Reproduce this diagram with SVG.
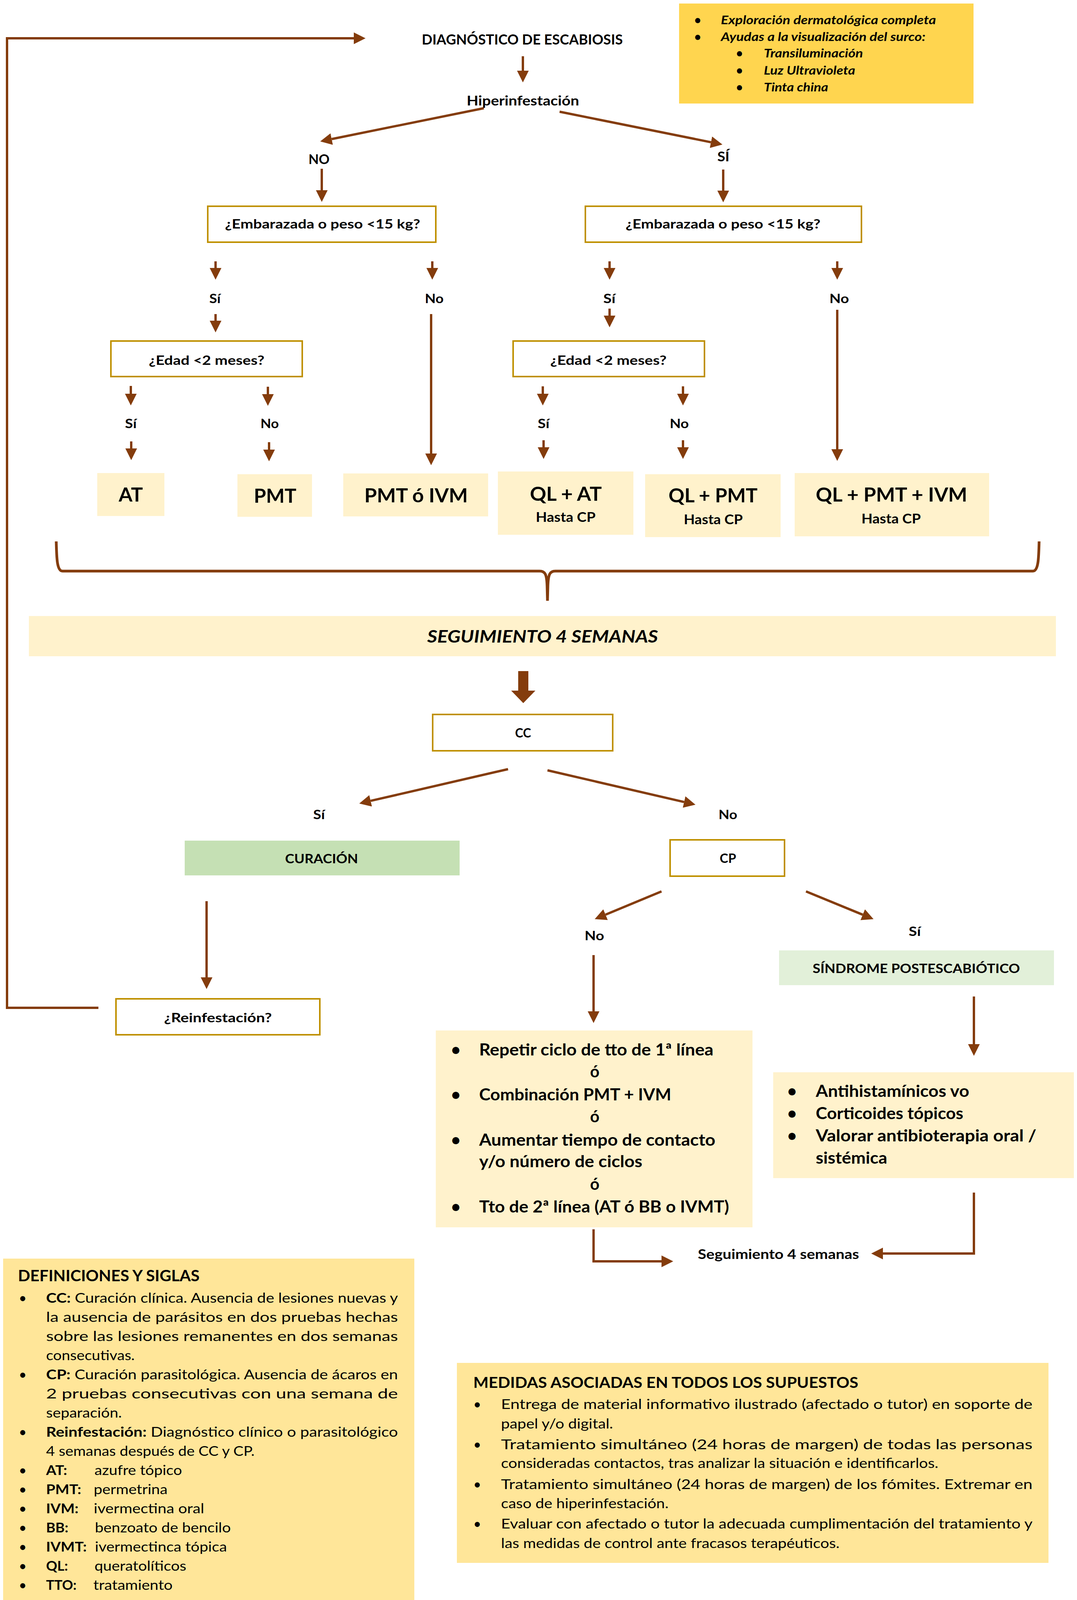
<svg xmlns="http://www.w3.org/2000/svg" width="2758" height="4216" viewBox="0 0 2758 4216">
<style>
text{font-family:Lato,'Open Sans','Liberation Sans',sans-serif;fill:#000}
.b{font-weight:700}
.bi{font-weight:700;font-style:italic}
.r{font-weight:400}
.c{fill:none;stroke:#843C0C;stroke-width:6}
.box{fill:#fff;stroke:#BF9000;stroke-width:4}
.cream{fill:#FFF2CC}
.gold{fill:#FFE699}
.green{fill:#C5E0B4}
.lgreen{fill:#E2F0D9}
.info{fill:#FFD54F}
</style>
<defs>
<marker id="ah" markerUnits="userSpaceOnUse" markerWidth="30" markerHeight="32" viewBox="0 -16 30 32" refX="0" refY="0" orient="auto">
<path d="M0,-15 L30,0 L0,15 z" fill="#843C0C"/>
</marker>
</defs>
<rect width="2758" height="4216" fill="#fff"/>

<g id="connectors">
<polyline class="c" points="252,2580 18,2580 18,98 906,98" marker-end="url(#ah)"/>
<line class="c" x1="1339" y1="144" x2="1339" y2="181" marker-end="url(#ah)"/>
<line class="c" x1="1239" y1="277" x2="849.4" y2="356" marker-end="url(#ah)"/>
<line class="c" x1="1433" y1="286" x2="1820.6" y2="364.1" marker-end="url(#ah)"/>
<line class="c" x1="824" y1="432" x2="824" y2="487" marker-end="url(#ah)"/>
<line class="c" x1="1852" y1="434" x2="1852" y2="488" marker-end="url(#ah)"/>
<line class="c" x1="552" y1="669" x2="552" y2="686" marker-end="url(#ah)"/>
<line class="c" x1="1107" y1="669" x2="1107" y2="686" marker-end="url(#ah)"/>
<line class="c" x1="1561" y1="669" x2="1561" y2="686" marker-end="url(#ah)"/>
<line class="c" x1="2144" y1="669" x2="2144" y2="686" marker-end="url(#ah)"/>
<line class="c" x1="552" y1="804" x2="552" y2="821" marker-end="url(#ah)"/>
<line class="c" x1="1561" y1="790" x2="1561" y2="808" marker-end="url(#ah)"/>
<line class="c" x1="1104" y1="804" x2="1104" y2="1161" marker-end="url(#ah)"/>
<line class="c" x1="2144" y1="793" x2="2144" y2="1150" marker-end="url(#ah)"/>
<line class="c" x1="335" y1="988" x2="335" y2="1008" marker-end="url(#ah)"/>
<line class="c" x1="686" y1="990" x2="686" y2="1009" marker-end="url(#ah)"/>
<line class="c" x1="1390" y1="989" x2="1390" y2="1008" marker-end="url(#ah)"/>
<line class="c" x1="1749" y1="989" x2="1749" y2="1008" marker-end="url(#ah)"/>
<line class="c" x1="336" y1="1130" x2="336" y2="1148" marker-end="url(#ah)"/>
<line class="c" x1="689" y1="1132" x2="689" y2="1151" marker-end="url(#ah)"/>
<line class="c" x1="1392" y1="1127" x2="1392" y2="1145" marker-end="url(#ah)"/>
<line class="c" x1="1749" y1="1127" x2="1749" y2="1145" marker-end="url(#ah)"/>
<path class="c" style="stroke-width:7" d="M144,1386 C145,1430 146,1462 160,1462 L1382,1462 C1396,1462 1400,1470 1401,1500 L1402,1538 M1402,1538 L1403,1500 C1404,1470 1408,1462 1422,1462 L2645,1462 C2659,1462 2660,1430 2661,1386"/>
<polygon points="1327,1718 1353,1718 1353,1768 1371,1768 1340,1800 1309,1768 1327,1768" fill="#843C0C"/>
<line class="c" x1="1301" y1="1969" x2="949.2" y2="2050.2" marker-end="url(#ah)"/>
<line class="c" x1="1402" y1="1972" x2="1751.8" y2="2053.2" marker-end="url(#ah)"/>
<line class="c" x1="529" y1="2307" x2="529" y2="2502" marker-end="url(#ah)"/>
<line class="c" x1="1694" y1="2282" x2="1550.7" y2="2341.5" marker-end="url(#ah)"/>
<line class="c" x1="2064" y1="2282" x2="2209.2" y2="2341.6" marker-end="url(#ah)"/>
<line class="c" x1="1520" y1="2445" x2="1520" y2="2589" marker-end="url(#ah)"/>
<line class="c" x1="2494" y1="2551" x2="2494" y2="2673" marker-end="url(#ah)"/>
<polyline class="c" points="1520,3147 1520,3229 1694,3229" marker-end="url(#ah)"/>
<polyline class="c" points="2494,3053 2494,3209 2261,3209" marker-end="url(#ah)"/>
</g>

<g id="n-diagnostico">
<text class="b" x="1080" y="114" font-size="37" textLength="515" lengthAdjust="spacingAndGlyphs">DIAGNÓSTICO DE ESCABIOSIS</text>
</g>
<g id="n-exploracion">
<rect class="info" x="1739" y="9" width="754" height="256"/>
<text class="bi" x="1778" y="62" font-size="30">•</text>
<text class="bi" x="1846" y="62" font-size="30" textLength="551" lengthAdjust="spacingAndGlyphs">Exploración dermatológica completa</text>
<text class="bi" x="1778" y="105" font-size="30">•</text>
<text class="bi" x="1846" y="105" font-size="30" textLength="524" lengthAdjust="spacingAndGlyphs">Ayudas a la visualización del surco:</text>
<text class="bi" x="1885" y="147" font-size="30">•</text>
<text class="bi" x="1956" y="147" font-size="30" textLength="254" lengthAdjust="spacingAndGlyphs">Transiluminación</text>
<text class="bi" x="1885" y="191" font-size="30">•</text>
<text class="bi" x="1956" y="191" font-size="30" textLength="234" lengthAdjust="spacingAndGlyphs">Luz Ultravioleta</text>
<text class="bi" x="1885" y="234" font-size="30">•</text>
<text class="bi" x="1956" y="234" font-size="30" textLength="165" lengthAdjust="spacingAndGlyphs">Tinta china</text>
</g>
<g id="n-hiper">
<text class="b" x="1195" y="270" font-size="35" textLength="288" lengthAdjust="spacingAndGlyphs">Hiperinfestación</text>
</g>
<g id="l-no-top"><text class="b" x="790" y="420" font-size="34" textLength="54" lengthAdjust="spacingAndGlyphs">NO</text></g>
<g id="l-si-top"><text class="b" x="1837" y="413" font-size="34" textLength="31" lengthAdjust="spacingAndGlyphs">SÍ</text></g>

<g id="n-emb-left">
<rect class="box" x="532" y="528" width="584" height="92"/>
<text class="b" x="576" y="585" font-size="32" textLength="500" lengthAdjust="spacingAndGlyphs">¿Embarazada o peso &lt;15 kg?</text>
</g>
<g id="n-emb-right">
<rect class="box" x="1499" y="528" width="707" height="92"/>
<text class="b" x="1602" y="585" font-size="32" textLength="499" lengthAdjust="spacingAndGlyphs">¿Embarazada o peso &lt;15 kg?</text>
</g>
<g id="l-lvl1">
<text class="b" x="536" y="776" font-size="33" textLength="29" lengthAdjust="spacingAndGlyphs">Sí</text>
<text class="b" x="1088" y="776" font-size="33" textLength="48" lengthAdjust="spacingAndGlyphs">No</text>
<text class="b" x="1545" y="776" font-size="33" textLength="31" lengthAdjust="spacingAndGlyphs">Sí</text>
<text class="b" x="2124" y="776" font-size="33" textLength="50" lengthAdjust="spacingAndGlyphs">No</text>
</g>
<g id="n-edad-left">
<rect class="box" x="284" y="873" width="490" height="91"/>
<text class="b" x="381" y="934" font-size="32" textLength="296" lengthAdjust="spacingAndGlyphs">¿Edad &lt;2 meses?</text>
</g>
<g id="n-edad-right">
<rect class="box" x="1314" y="873" width="490" height="91"/>
<text class="b" x="1409" y="934" font-size="32" textLength="298" lengthAdjust="spacingAndGlyphs">¿Edad &lt;2 meses?</text>
</g>
<g id="l-lvl2">
<text class="b" x="320" y="1096" font-size="33" textLength="30" lengthAdjust="spacingAndGlyphs">Sí</text>
<text class="b" x="667" y="1096" font-size="33" textLength="47" lengthAdjust="spacingAndGlyphs">No</text>
<text class="b" x="1377" y="1096" font-size="33" textLength="30" lengthAdjust="spacingAndGlyphs">Sí</text>
<text class="b" x="1715" y="1096" font-size="33" textLength="49" lengthAdjust="spacingAndGlyphs">No</text>
</g>
<g id="n-at">
<rect class="cream" x="249" y="1211" width="172" height="110"/>
<text class="b" x="304" y="1284" font-size="49" textLength="62" lengthAdjust="spacingAndGlyphs">AT</text>
</g>
<g id="n-pmt">
<rect class="cream" x="608" y="1214" width="191" height="109"/>
<text class="b" x="650" y="1287" font-size="49" textLength="109" lengthAdjust="spacingAndGlyphs">PMT</text>
</g>
<g id="n-pmt-ivm">
<rect class="cream" x="879" y="1212" width="371" height="110"/>
<text class="b" x="933" y="1286" font-size="49" textLength="265" lengthAdjust="spacingAndGlyphs">PMT ó IVM</text>
</g>
<g id="n-ql-at">
<rect class="cream" x="1275" y="1207" width="347" height="162"/>
<text class="b" x="1357" y="1282" font-size="49" textLength="184" lengthAdjust="spacingAndGlyphs">QL + AT</text>
<text class="b" x="1372" y="1336" font-size="34" textLength="153" lengthAdjust="spacingAndGlyphs">Hasta CP</text>
</g>
<g id="n-ql-pmt">
<rect class="cream" x="1652" y="1214" width="347" height="161"/>
<text class="b" x="1712" y="1286" font-size="49" textLength="228" lengthAdjust="spacingAndGlyphs">QL + PMT</text>
<text class="b" x="1751" y="1342" font-size="34" textLength="151" lengthAdjust="spacingAndGlyphs">Hasta CP</text>
</g>
<g id="n-ql-pmt-ivm">
<rect class="cream" x="2035" y="1211" width="498" height="162"/>
<text class="b" x="2089" y="1284" font-size="49" textLength="388" lengthAdjust="spacingAndGlyphs">QL + PMT + IVM</text>
<text class="b" x="2206" y="1340" font-size="34" textLength="152" lengthAdjust="spacingAndGlyphs">Hasta CP</text>
</g>
<g id="n-seguimiento">
<rect class="cream" x="74" y="1577" width="2630" height="103"/>
<text class="bi" x="1094" y="1645" font-size="44" textLength="591" lengthAdjust="spacingAndGlyphs">SEGUIMIENTO 4 SEMANAS</text>
</g>
<g id="n-cc">
<rect class="box" x="1108" y="1829" width="461" height="93"/>
<text class="b" x="1319" y="1888" font-size="32" textLength="41" lengthAdjust="spacingAndGlyphs">CC</text>
</g>
<g id="l-cc">
<text class="b" x="802" y="2097" font-size="33" textLength="30" lengthAdjust="spacingAndGlyphs">Sí</text>
<text class="b" x="1840" y="2097" font-size="33" textLength="48" lengthAdjust="spacingAndGlyphs">No</text>
</g>
<g id="n-curacion">
<rect class="green" x="473" y="2152" width="704" height="89"/>
<text class="b" x="730" y="2210" font-size="33" textLength="187" lengthAdjust="spacingAndGlyphs">CURACIÓN</text>
</g>
<g id="n-cp">
<rect class="box" x="1716" y="2150" width="293" height="93"/>
<text class="b" x="1843" y="2209" font-size="33" textLength="42" lengthAdjust="spacingAndGlyphs">CP</text>
</g>
<g id="l-cp">
<text class="b" x="1497" y="2407" font-size="33" textLength="50" lengthAdjust="spacingAndGlyphs">No</text>
<text class="b" x="2327" y="2396" font-size="33" textLength="31" lengthAdjust="spacingAndGlyphs">Sí</text>
</g>
<g id="n-sindrome">
<rect class="lgreen" x="1995" y="2433" width="704" height="89"/>
<text class="b" x="2081" y="2491" font-size="33" textLength="531" lengthAdjust="spacingAndGlyphs">SÍNDROME POSTESCABIÓTICO</text>
</g>
<g id="n-reinf">
<rect class="box" x="297" y="2557" width="522" height="92"/>
<text class="b" x="420" y="2617" font-size="33" textLength="276" lengthAdjust="spacingAndGlyphs">¿Reinfestación?</text>
</g>
<g id="n-repetir">
<rect class="cream" x="1116" y="2638" width="811" height="504"/>
<text class="b" x="1155" y="2702" font-size="42">•</text>
<text class="b" x="1227" y="2702" font-size="42" textLength="600" lengthAdjust="spacingAndGlyphs">Repetir ciclo de tto de 1ª línea</text>
<text class="b" x="1511" y="2758" font-size="42">ó</text>
<text class="b" x="1155" y="2817" font-size="42">•</text>
<text class="b" x="1227" y="2817" font-size="42" textLength="492" lengthAdjust="spacingAndGlyphs">Combinación PMT + IVM</text>
<text class="b" x="1511" y="2873" font-size="42">ó</text>
<text class="b" x="1155" y="2933" font-size="42">•</text>
<text class="b" x="1227" y="2933" font-size="42" textLength="605" lengthAdjust="spacingAndGlyphs">Aumentar tiempo de contacto</text>
<text class="b" x="1227" y="2988" font-size="42" textLength="418" lengthAdjust="spacingAndGlyphs">y/o número de ciclos</text>
<text class="b" x="1511" y="3046" font-size="42">ó</text>
<text class="b" x="1155" y="3104" font-size="42">•</text>
<text class="b" x="1227" y="3104" font-size="42" textLength="640" lengthAdjust="spacingAndGlyphs">Tto de 2ª línea (AT ó BB o IVMT)</text>
</g>
<g id="n-antihist">
<rect class="cream" x="1980" y="2745" width="770" height="271"/>
<text class="b" x="2016" y="2808" font-size="42">•</text>
<text class="b" x="2089" y="2808" font-size="42" textLength="393" lengthAdjust="spacingAndGlyphs">Antihistamínicos vo</text>
<text class="b" x="2016" y="2865" font-size="42">•</text>
<text class="b" x="2089" y="2865" font-size="42" textLength="378" lengthAdjust="spacingAndGlyphs">Corticoides tópicos</text>
<text class="b" x="2016" y="2922" font-size="42">•</text>
<text class="b" x="2089" y="2922" font-size="42" textLength="565" lengthAdjust="spacingAndGlyphs">Valorar antibioterapia oral /</text>
<text class="b" x="2089" y="2979" font-size="42" textLength="183" lengthAdjust="spacingAndGlyphs">sistémica</text>
</g>
<g id="n-seg4">
<text class="b" x="1787" y="3223" font-size="34" textLength="413" lengthAdjust="spacingAndGlyphs">Seguimiento 4 semanas</text>
</g>

<g id="n-definiciones">
<rect class="gold" x="8" y="3222" width="1053" height="990"/>
<text class="b" x="46" y="3280" font-size="40" textLength="465" lengthAdjust="spacingAndGlyphs">DEFINICIONES Y SIGLAS</text>
<g font-size="35">
<text class="r" x="48" y="3335">•</text>
<text x="118" y="3335" textLength="901" lengthAdjust="spacingAndGlyphs"><tspan class="b">CC:</tspan><tspan class="r"> Curación clínica. Ausencia de lesiones nuevas y</tspan></text>
<text class="r" x="118" y="3384" textLength="901" lengthAdjust="spacingAndGlyphs">la ausencia de parásitos en dos pruebas hechas</text>
<text class="r" x="118" y="3433" textLength="901" lengthAdjust="spacingAndGlyphs">sobre las lesiones remanentes en dos semanas</text>
<text class="r" x="118" y="3482" textLength="227" lengthAdjust="spacingAndGlyphs">consecutivas.</text>
<text class="r" x="48" y="3531">•</text>
<text x="118" y="3531" textLength="901" lengthAdjust="spacingAndGlyphs"><tspan class="b">CP:</tspan><tspan class="r"> Curación parasitológica. Ausencia de ácaros en</tspan></text>
<text class="r" x="118" y="3580" textLength="901" lengthAdjust="spacingAndGlyphs">2 pruebas consecutivas con una semana de</text>
<text class="r" x="118" y="3629" textLength="194" lengthAdjust="spacingAndGlyphs">separación.</text>
<text class="r" x="48" y="3678">•</text>
<text x="118" y="3678" textLength="901" lengthAdjust="spacingAndGlyphs"><tspan class="b">Reinfestación:</tspan><tspan class="r"> Diagnóstico clínico o parasitológico</tspan></text>
<text class="r" x="118" y="3727" textLength="534" lengthAdjust="spacingAndGlyphs">4 semanas después de CC y CP.</text>
<text class="r" x="48" y="3776">•</text>
<text class="b" x="118" y="3776" textLength="54" lengthAdjust="spacingAndGlyphs">AT:</text>
<text class="r" x="242" y="3776" textLength="224" lengthAdjust="spacingAndGlyphs">azufre tópico</text>
<text class="r" x="48" y="3825">•</text>
<text class="b" x="118" y="3825" textLength="90" lengthAdjust="spacingAndGlyphs">PMT:</text>
<text class="r" x="240" y="3825" textLength="189" lengthAdjust="spacingAndGlyphs">permetrina</text>
<text class="r" x="48" y="3874">•</text>
<text class="b" x="118" y="3874" textLength="83" lengthAdjust="spacingAndGlyphs">IVM:</text>
<text class="r" x="240" y="3874" textLength="283" lengthAdjust="spacingAndGlyphs">ivermectina oral</text>
<text class="r" x="48" y="3923">•</text>
<text class="b" x="118" y="3923" textLength="57" lengthAdjust="spacingAndGlyphs">BB:</text>
<text class="r" x="243" y="3923" textLength="348" lengthAdjust="spacingAndGlyphs">benzoato de bencilo</text>
<text class="r" x="48" y="3972">•</text>
<text class="b" x="118" y="3972" textLength="104" lengthAdjust="spacingAndGlyphs">IVMT:</text>
<text class="r" x="243" y="3972" textLength="338" lengthAdjust="spacingAndGlyphs">ivermectinca tópica</text>
<text class="r" x="48" y="4021">•</text>
<text class="b" x="118" y="4021" textLength="56" lengthAdjust="spacingAndGlyphs">QL:</text>
<text class="r" x="242" y="4021" textLength="235" lengthAdjust="spacingAndGlyphs">queratolíticos</text>
<text class="r" x="48" y="4070">•</text>
<text class="b" x="118" y="4070" textLength="78" lengthAdjust="spacingAndGlyphs">TTO:</text>
<text class="r" x="239" y="4070" textLength="203" lengthAdjust="spacingAndGlyphs">tratamiento</text>
</g>
</g>

<g id="n-medidas">
<rect class="gold" x="1170" y="3489" width="1515" height="512"/>
<text class="b" x="1212" y="3553" font-size="38" textLength="986" lengthAdjust="spacingAndGlyphs">MEDIDAS ASOCIADAS EN TODOS LOS SUPUESTOS</text>
<g class="r" font-size="35">
<text x="1212" y="3607">•</text>
<text x="1283" y="3607" textLength="1361" lengthAdjust="spacingAndGlyphs">Entrega de material informativo ilustrado (afectado o tutor) en soporte de</text>
<text x="1283" y="3657" textLength="287" lengthAdjust="spacingAndGlyphs">papel y/o digital.</text>
<text x="1212" y="3710">•</text>
<text x="1283" y="3710" textLength="1361" lengthAdjust="spacingAndGlyphs">Tratamiento simultáneo (24 horas de margen) de todas las personas</text>
<text x="1283" y="3758" textLength="1120" lengthAdjust="spacingAndGlyphs">consideradas contactos, tras analizar la situación e identificarlos.</text>
<text x="1212" y="3812">•</text>
<text x="1283" y="3812" textLength="1361" lengthAdjust="spacingAndGlyphs">Tratamiento simultáneo (24 horas de margen) de los fómites. Extremar en</text>
<text x="1283" y="3861" textLength="429" lengthAdjust="spacingAndGlyphs">caso de hiperinfestación.</text>
<text x="1212" y="3913">•</text>
<text x="1283" y="3913" textLength="1361" lengthAdjust="spacingAndGlyphs">Evaluar con afectado o tutor la adecuada cumplimentación del tratamiento y</text>
<text x="1283" y="3963" textLength="867" lengthAdjust="spacingAndGlyphs">las medidas de control ante fracasos terapéuticos.</text>
</g>
</g>
</svg>
